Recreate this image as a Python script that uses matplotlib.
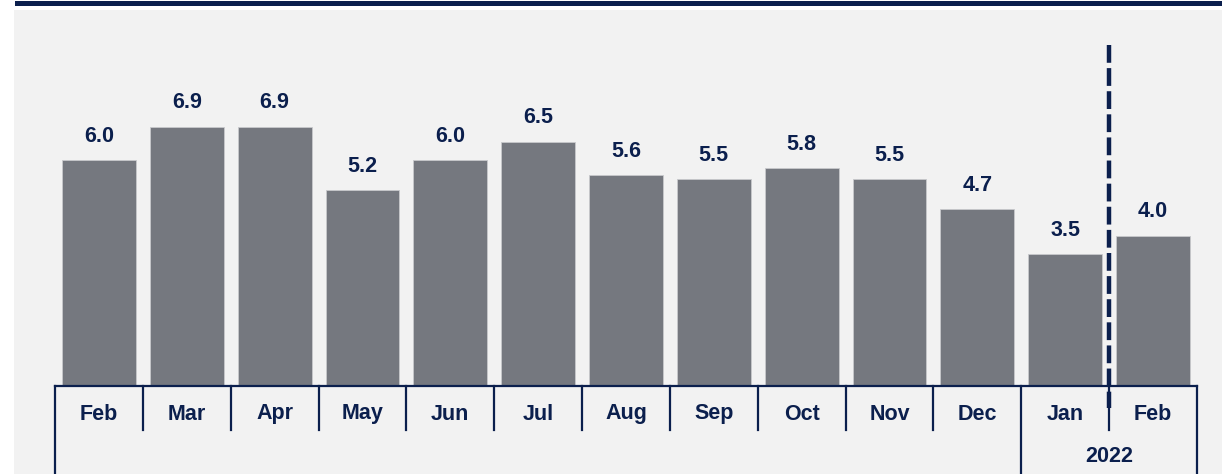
import matplotlib
matplotlib.use("Agg")
import matplotlib.pyplot as plt
from matplotlib.patches import Rectangle
import matplotlib.transforms as mtransforms

months = ["Feb", "Mar", "Apr", "May", "Jun", "Jul", "Aug", "Sep", "Oct", "Nov", "Dec", "Jan", "Feb"]
values = [6.0, 6.9, 6.9, 5.2, 6.0, 6.5, 5.6, 5.5, 5.8, 5.5, 4.7, 3.5, 4.0]
year_label = "2022"

NAVY = "#0b1f4d"
BAR = "#75787f"
PANEL = "#f2f2f2"

W, H = 1222, 474
fig = plt.figure(figsize=(W / 100, H / 100), dpi=100)
fig.patch.set_facecolor("white")
plt.rcParams["font.family"] = ["Liberation Sans", "DejaVu Sans"]
FS = 15.5

# background panel and top band
fig.patches.append(Rectangle((14 / W, 0), 1 - 14 / W, (H - 10) / H, transform=fig.transFigure,
                             facecolor=PANEL, edgecolor="none", zorder=-10))
fig.patches.append(Rectangle((15 / W, (H - 6) / H), 1 - 15 / W, 5 / H, transform=fig.transFigure,
                             facecolor=NAVY, edgecolor="none", zorder=-10))

left, right, top, bottom = 55, 1197, 10, 386
ax = fig.add_axes([left / W, (H - bottom) / H, (right - left) / W, (bottom - top) / H])
ax.set_zorder(1)
ax.set_facecolor("none")
n = len(values)
x = list(range(n))
ax.bar(x, values, width=0.84, color=BAR, edgecolor="#c8c9cc", linewidth=0.6, zorder=2)
ax.set_xlim(-0.5, n - 0.5)
ax.set_ylim(0, 10)
for s in ["top", "right", "left"]:
    ax.spines[s].set_visible(False)
ax.spines["bottom"].set_color(NAVY)
ax.spines["bottom"].set_linewidth(1.6)
ax.set_xticks([])
ax.set_yticks([])

for xi, v in zip(x, values):
    ax.annotate(f"{v:.1f}", (xi, v), xytext=(0, 9.5), textcoords="offset points",
                ha="center", va="bottom", fontsize=FS, fontweight="bold", color=NAVY)

trans = mtransforms.blended_transform_factory(ax.transData, ax.transAxes)
axh = bottom - top
short = -44 / axh
long_ = -88 / axh
for b in [i - 0.5 for i in range(n + 1)]:
    y1 = long_ if b in (-0.5, n - 2.5, n - 0.5) else short
    ax.plot([b, b], [0, y1], transform=trans, color=NAVY, lw=1.6, clip_on=False, zorder=3)

for xi, m in zip(x, months):
    ax.text(xi, -28 / axh, m, transform=trans, ha="center", va="center",
            fontsize=FS, fontweight="bold", color=NAVY)
ax.text((n - 2 + n - 1) / 2, -71 / axh, year_label, transform=trans, ha="center", va="center",
        fontsize=FS, fontweight="bold", color=NAVY)

# dashed divider between Jan and Feb
bx = n - 1.5
ax.plot([bx, bx], [(bottom - 45) / axh, -22 / axh], transform=trans, color=NAVY, lw=3.2,
        linestyle=(0, (4, 1.2)), clip_on=False, zorder=4)

fig.savefig("out.png", dpi=100, facecolor=fig.get_facecolor())
